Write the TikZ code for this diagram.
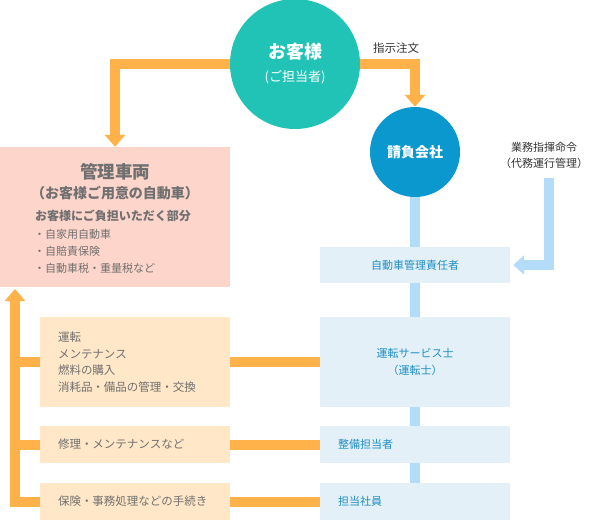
\documentclass[tikz,border=0pt]{standalone}
\usepackage{fontspec}
\setmainfont{Noto Sans CJK JP}
\usepackage{tikz}
\usetikzlibrary{arrows.meta}
\definecolor{kyakuteal}{HTML}{22C3B7}
\definecolor{ukeoiblue}{HTML}{0A98CE}
\definecolor{haiorange}{HTML}{FFB24A}
\definecolor{haiblue}{HTML}{B3DCF8}
\definecolor{boxblue}{HTML}{E3F0F7}
\definecolor{boxbeige}{HTML}{FFE7C7}
\definecolor{boxpink}{HTML}{FDD5CA}
\definecolor{textgray}{HTML}{707070}
\definecolor{textblue}{HTML}{1F8DC6}
\definecolor{textdark}{HTML}{333333}
\tikzset{
    orangeline/.style={draw=haiorange, line width=10pt},
    orangearrow/.style={orangeline, -{Triangle[width=20pt,length=12pt]}},
    blueline/.style={draw=haiblue, line width=10pt},
    bluearrow/.style={draw=haiblue, line width=9.5pt, -{Triangle[width=19pt,length=11pt]}},
    taskbox/.style={fill=boxbeige, text=textgray, inner xsep=18pt, inner ysep=0pt,
        text width=154pt, align=left, minimum height=37pt,
        font=\fontsize{11.5}{16.5}\selectfont},
    staffbox/.style={fill=boxblue, text=textblue, inner xsep=18pt, inner ysep=0pt,
        text width=154pt, align=left, minimum height=37pt,
        font=\fontsize{11}{17}\selectfont}
}

\begin{document}
\begin{tikzpicture}[x=1pt,y=-1pt]
    \useasboundingbox (0,0) rectangle (590,520);
    % circles
    \node[circle, fill=kyakuteal, minimum size=130pt, inner sep=0pt, text=white,
          align=center, font=\fontsize{13}{23}\selectfont] (customer) at (295,64)
          {{\bfseries\fontsize{18}{23}\selectfont お客様}\\(ご担当者)};
    \node[circle, fill=ukeoiblue, minimum size=90pt, inner sep=0pt, text=white,
          font=\bfseries\fontsize{14}{16}\selectfont] (contractor) at (415,152) {請負会社};
    \node[text=textdark, font=\fontsize{11.5}{14}\selectfont] (order) at (396,48) {指示注文};
    \node[text=textdark, align=center, font=\fontsize{11}{16}\selectfont] (command) at (544,155)
          {業務指揮命令\\（代務運行管理）};
    % vehicle
    \node[fill=boxpink, minimum width=230pt, minimum height=140pt, inner sep=0pt] (vehicle) at (115,217) {};
    \node[text=textgray, font=\bfseries\fontsize{17.5}{20}\selectfont] (vtitle) at (115,172) {管理車両};
    \node[text=textgray, font=\bfseries\fontsize{14}{16}\selectfont] (vsub) at (115,193) {（お客様ご用意の自動車）};
    \node[text=textgray, anchor=west, inner sep=0pt, font=\bfseries\fontsize{12}{14}\selectfont] (vpay) at (35,216)
          {お客様にご負担いただく部分};
    \node[text=textgray, anchor=west, inner sep=0pt, align=left, font=\fontsize{11}{17}\selectfont] (vlist) at (34,251)
          {・自家用自動車\\・自賠責保険\\・自動車税・重量税など};
    % staff
    \node[staffbox, align=center, minimum height=36pt] (manager) at (415,265) {自動車管理責任者};
    \node[staffbox, align=center, minimum height=90pt] (driver) at (415,362) {運転サービス士\\（運転士）};
    \node[staffbox] (mechanic) at (415,444.5) {整備担当者};
    \node[staffbox] (clerk) at (415,501.5) {担当社員};
    % tasks
    \node[taskbox, minimum height=90pt] (task1) at (135,362)
          {運転\\メンテナンス\\燃料の購入\\消耗品・備品の管理・交換};
    \node[taskbox] (task2) at (135,444.5) {修理・メンテナンスなど};
    \node[taskbox] (task3) at (135,501.5) {保険・事務処理などの手続き};
    \coordinate (cmdtop) at (549,178);
    \coordinate (back) at (15,289);
    % connectors
    \draw[orangearrow] (customer.west) -| (vehicle.north);
    \draw[orangearrow] (customer.east) -| (contractor.north);
    \draw[blueline] (contractor.south) -- (manager.north);
    \draw[blueline] (manager.south) -- (driver.north);
    \draw[blueline] (driver.south) -- (mechanic.north);
    \draw[blueline] (mechanic.south) -- (clerk.north);
    \draw[bluearrow, shorten >=3pt] (cmdtop) |- (manager.east);
    \draw[orangeline] (task1.east) -- (driver.west);
    \draw[orangeline] (task2.east) -- (mechanic.west);
    \draw[orangeline] (task3.east) -- (clerk.west);
    \draw[orangearrow] (task3.west) -| (back);
    \draw[orangeline] (task1.west) -- (task1.west -| back);
    \draw[orangeline] (task2.west) -- (task2.west -| back);
\end{tikzpicture}
\end{document}
